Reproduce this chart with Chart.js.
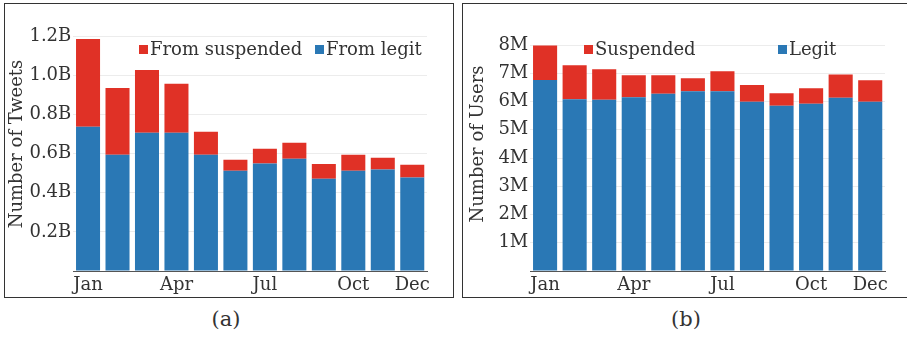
<!DOCTYPE html>
<html>
<head>
<meta charset="utf-8">
<script src="https://cdn.jsdelivr.net/npm/chart.js@4/dist/chart.umd.min.js"></script>
<style>
  html, body { margin: 0; padding: 0; background: #fff; width: 907px; height: 338px; overflow: hidden; }
  .panel { position: absolute; top: 3px; height: 293px; border: 1px solid #333; background: #fff; }
  #panelA { left: 4px; width: 448px; }
  #panelB { left: 462px; width: 460px; }
  .panel canvas { position: absolute; left: 0; top: 0; }
  .caption { position: absolute; top: 307px; font-family: "DejaVu Serif", serif; font-size: 21px; color: #333; transform: translateX(-50%); }
</style>
</head>
<body>
<div class="panel" id="panelA"><canvas id="tweets" width="447" height="292"></canvas></div>
<div class="panel" id="panelB"><canvas id="users" width="447" height="292"></canvas></div>
<div class="caption" style="left:226px">(a)</div>
<div class="caption" style="left:686px">(b)</div>
<script>
// Months of the year and the labels shown under the bars
const months = ['Jan','Feb','Mar','Apr','May','Jun','Jul','Aug','Sep','Oct','Nov','Dec'];
const monthTicks = ['Jan','','','Apr','','','Jul','','','Oct','','Dec'];

// Tweets per month, in billions
const tweetsLegit     = [0.736, 0.593, 0.706, 0.706, 0.593, 0.512, 0.549, 0.573, 0.471, 0.512, 0.518, 0.478];
const tweetsSuspended = [0.449, 0.342, 0.321, 0.250, 0.118, 0.056, 0.075, 0.082, 0.076, 0.081, 0.060, 0.064];

// Active users per month, in millions
const usersLegit     = [6.76, 6.08, 6.06, 6.15, 6.27, 6.36, 6.36, 5.99, 5.85, 5.92, 6.13, 5.99];
const usersSuspended = [1.22, 1.20, 1.08, 0.78, 0.66, 0.46, 0.71, 0.59, 0.44, 0.55, 0.83, 0.76];

const BLUE = '#2a78b5';
const RED = '#e03126';
const TEXT = '#333';
const FONT = '"DejaVu Serif", serif';

// Legend drawn as coloured squares with labels, placed inside the plot area
const panelLegend = {
  id: 'panelLegend',
  afterDraw(chart, args, opts) {
    const ctx = chart.ctx, a = chart.chartArea;
    ctx.save();
    ctx.font = opts.size + 'px ' + FONT;
    ctx.textBaseline = 'alphabetic';
    ctx.textAlign = 'left';
    opts.items.forEach(it => {
      const ds = chart.data.datasets[it.index];
      const x = a.left + it.x;
      ctx.fillStyle = ds.backgroundColor;
      ctx.fillRect(x, opts.y - opts.box, opts.box, opts.box);
      ctx.fillStyle = TEXT;
      ctx.fillText(ds.label, x + opts.box + 2, opts.y + 1);
    });
    ctx.restore();
  }
};

// Rotated axis title
const sideTitle = {
  id: 'sideTitle',
  afterDraw(chart, args, opts) {
    const ctx = chart.ctx;
    ctx.save();
    ctx.translate(opts.x, opts.y);
    ctx.rotate(-Math.PI / 2);
    ctx.font = opts.size + 'px ' + FONT;
    ctx.fillStyle = TEXT;
    ctx.textAlign = 'center';
    ctx.textBaseline = 'middle';
    ctx.fillText(opts.text, 0, 0);
    ctx.restore();
  }
};

function makeChart(id, cfg) {
  return new Chart(document.getElementById(id), {
    type: 'bar',
    data: {
      labels: months,
      datasets: [
        { label: cfg.legitLabel, data: cfg.legit, backgroundColor: BLUE },
        { label: cfg.suspLabel, data: cfg.susp, backgroundColor: RED }
      ]
    },
    options: {
      responsive: false,
      animation: false,
      devicePixelRatio: 1,
      layout: { padding: { top: cfg.padTop, right: 25, left: 0, bottom: 0 } },
      datasets: { bar: { categoryPercentage: 1.0, barPercentage: 0.815, borderWidth: 0 } },
      scales: {
        x: {
          stacked: true,
          grid: { display: false, drawTicks: false },
          border: { display: true, color: '#555', width: 1 },
          ticks: {
            autoSkip: false, maxRotation: 0, padding: 4,
            color: TEXT, font: { family: FONT, size: 18 },
            callback: (v, i) => monthTicks[i]
          },
          afterFit: s => { s.height = 25; }
        },
        y: {
          stacked: true,
          min: 0, max: cfg.max,
          grid: { color: '#ececec', drawTicks: false, lineWidth: 1 },
          border: { display: false },
          ticks: {
            stepSize: cfg.step, padding: 2,
            color: TEXT, font: { family: FONT, size: 18 },
            callback: v => v === 0 ? '' : cfg.fmt(v)
          },
          afterFit: s => { s.width = cfg.yWidth; }
        }
      },
      plugins: {
        legend: { display: false },
        tooltip: { enabled: false },
        panelLegend: cfg.legend,
        sideTitle: cfg.title
      }
    },
    plugins: [panelLegend, sideTitle]
  });
}

makeChart('tweets', {
  legit: tweetsLegit, susp: tweetsSuspended,
  legitLabel: 'From legit', suspLabel: 'From suspended',
  max: 1.2, step: 0.2, padTop: 32, yWidth: 68.3,
  fmt: v => v.toFixed(1) + 'B',
  legend: { size: 18, box: 9, y: 50, items: [{ index: 1, x: 65.7 }, { index: 0, x: 241.7 }] },
  title: { text: 'Number of Tweets', x: 12, y: 140, size: 18 }
});

makeChart('users', {
  legit: usersLegit, susp: usersSuspended,
  legitLabel: 'Legit', suspLabel: 'Suspended',
  max: 8, step: 1, padTop: 41, yWidth: 67.3,
  fmt: v => v + 'M',
  legend: { size: 18, box: 9, y: 50, items: [{ index: 1, x: 53.7 }, { index: 0, x: 247.7 }] },
  title: { text: 'Number of Users', x: 15, y: 140, size: 18 }
});
</script>
</body>
</html>
